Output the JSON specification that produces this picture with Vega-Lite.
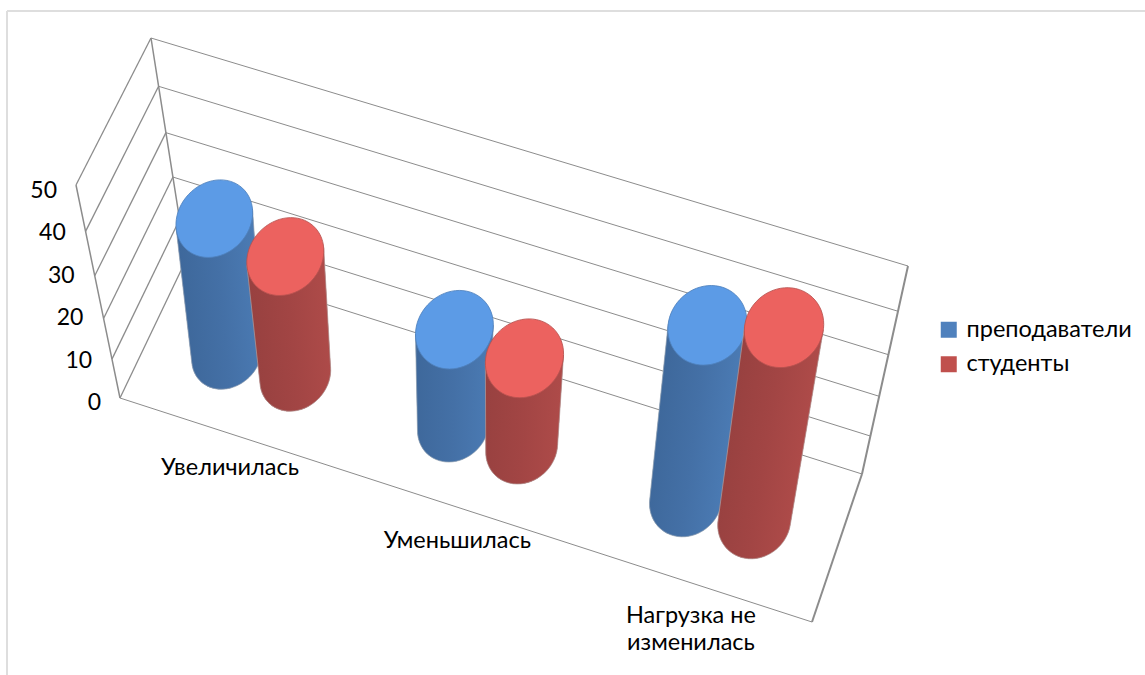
{
  "$schema": "https://vega.github.io/schema/vega-lite/v6.json",
  "width": 1145,
  "height": 675,
  "padding": 0,
  "autosize": "none",
  "background": "white",
  "view": {"stroke": null},
  "config": {"font": "Lato"},
  "datasets": {
    "levels": [{"level": 0}, {"level": 10}, {"level": 20}, {"level": 30}, {"level": 40}, {"level": 50}],
    "cylinders": [
      {"category": "Увеличилась", "series": "преподаватели", "value": 32.5},
      {"category": "Увеличилась", "series": "студенты", "value": 29},
      {"category": "Уменьшилась", "series": "преподаватели", "value": 24},
      {"category": "Уменьшилась", "series": "студенты", "value": 22.5},
      {"category": "Нагрузка не изменилась", "series": "преподаватели", "value": 42.5},
      {"category": "Нагрузка не изменилась", "series": "студенты", "value": 47}
    ]
  },
  "encoding": {
    "x": {"field": "sx", "type": "quantitative", "scale": {"domain": [0, 1145], "nice": false, "zero": false}, "axis": null},
    "y": {"field": "sy", "type": "quantitative", "scale": {"domain": [0, 675], "reverse": true, "nice": false, "zero": false}, "axis": null}
  },
  "layer": [
    {
      "data": {"values": [{"edge": "top"}]},
      "transform": [
        {"calculate": "7", "as": "sx"}, {"calculate": "11", "as": "sy"},
        {"calculate": "1145", "as": "sx2"}, {"calculate": "11", "as": "sy2"}
      ],
      "mark": {"type": "rule", "color": "#dedede", "strokeWidth": 2},
      "encoding": {"x2": {"field": "sx2"}, "y2": {"field": "sy2"}}
    },
    {
      "data": {"values": [{"edge": "left"}]},
      "transform": [
        {"calculate": "7", "as": "sx"}, {"calculate": "11", "as": "sy"},
        {"calculate": "7", "as": "sx2"}, {"calculate": "675", "as": "sy2"}
      ],
      "mark": {"type": "rule", "color": "#dedede", "strokeWidth": 2},
      "encoding": {"x2": {"field": "sx2"}, "y2": {"field": "sy2"}}
    },
    {
      "data": {"name": "levels"},
      "transform": [
        {"calculate": "datum.level/50", "as": "t"},
        {"calculate": "datum.t-0.11*datum.t*(1-datum.t)", "as": "h"}
      ],
      "layer": [
        {
          "transform": [
            {"calculate": "186-35*datum.h", "as": "sx"},
            {"calculate": "260-222*datum.h", "as": "sy"},
            {"calculate": "862+46*datum.h", "as": "sx2"},
            {"calculate": "474-208*datum.h", "as": "sy2"}
          ],
          "mark": {"type": "rule", "color": "#8c8c8c", "strokeWidth": 1},
          "encoding": {"x2": {"field": "sx2"}, "y2": {"field": "sy2"}}
        },
        {
          "transform": [
            {"calculate": "120-44*datum.h", "as": "sx"},
            {"calculate": "398-213*datum.h", "as": "sy"},
            {"calculate": "186-35*datum.h", "as": "sx2"},
            {"calculate": "260-222*datum.h", "as": "sy2"}
          ],
          "mark": {"type": "rule", "color": "#8c8c8c", "strokeWidth": 1.3},
          "encoding": {"x2": {"field": "sx2"}, "y2": {"field": "sy2"}}
        },
        {
          "transform": [
            {"calculate": "120-44*datum.h", "as": "sx"},
            {"calculate": "398-213*datum.h", "as": "sy"}
          ],
          "mark": {"type": "line", "color": "#8c8c8c", "strokeWidth": 1.5},
          "encoding": {"order": {"field": "level"}}
        },
        {
          "transform": [
            {"calculate": "186-35*datum.h", "as": "sx"},
            {"calculate": "260-222*datum.h", "as": "sy"}
          ],
          "mark": {"type": "line", "color": "#8c8c8c", "strokeWidth": 1.5},
          "encoding": {"order": {"field": "level"}}
        },
        {
          "transform": [
            {"calculate": "862+46*datum.h", "as": "sx"},
            {"calculate": "474-208*datum.h", "as": "sy"}
          ],
          "mark": {"type": "line", "color": "#8c8c8c", "strokeWidth": 2},
          "encoding": {"order": {"field": "level"}}
        },
        {
          "transform": [
            {"filter": "datum.level===0"},
            {"calculate": "120", "as": "sx"}, {"calculate": "398", "as": "sy"},
            {"calculate": "812", "as": "sx2"}, {"calculate": "622", "as": "sy2"}
          ],
          "mark": {"type": "rule", "color": "#8c8c8c", "strokeWidth": 1},
          "encoding": {"x2": {"field": "sx2"}, "y2": {"field": "sy2"}}
        },
        {
          "transform": [
            {"filter": "datum.level===0"},
            {"calculate": "812", "as": "sx"}, {"calculate": "622", "as": "sy"},
            {"calculate": "862", "as": "sx2"}, {"calculate": "474", "as": "sy2"}
          ],
          "mark": {"type": "rule", "color": "#8c8c8c", "strokeWidth": 2},
          "encoding": {"x2": {"field": "sx2"}, "y2": {"field": "sy2"}}
        },
        {
          "transform": [
            {"calculate": "120-44*datum.t", "as": "sx"},
            {"calculate": "398-212.4*datum.t", "as": "sy"}
          ],
          "mark": {"type": "text", "align": "right", "baseline": "middle", "dx": -19, "dy": 5, "fontSize": 23, "color": "#000000"},
          "encoding": {"text": {"field": "level", "type": "quantitative"}}
        }
      ]
    },
    {
      "data": {"name": "cylinders"},
      "transform": [
        {"calculate": "[0.158,0.489,0.829][indexof(['Увеличилась','Уменьшилась','Нагрузка не изменилась'],datum.category)]", "as": "catU"},
        {"calculate": "datum.series==='преподаватели'", "as": "front"},
        {"calculate": "datum.catU+(datum.front?-0.05:0.05)", "as": "u"},
        {"calculate": "datum.value/50", "as": "t"},
        {"calculate": "datum.t-0.11*datum.t*(1-datum.t)", "as": "h"},
        {"calculate": "153+684*datum.u", "as": "bx"},
        {"calculate": "330+218.5*datum.u", "as": "by"},
        {"calculate": "(-27.5+68.4*datum.u+(datum.front?0:-6*(1-datum.u)))*datum.h", "as": "dx"},
        {"calculate": "(-217+10*datum.u)*datum.h", "as": "dy"},
        {"calculate": "atan2(datum.dx,-datum.dy)*180/PI", "as": "tilt"},
        {"calculate": "sqrt(datum.dx*datum.dx+datum.dy*datum.dy)", "as": "len"},
        {"calculate": "41.5", "as": "a1"},
        {"calculate": "35+3.5*datum.u", "as": "b1"},
        {"calculate": "0.92*datum.a1", "as": "a0"},
        {"calculate": "0.92*datum.b1", "as": "b0"},
        {"calculate": "-47-datum.tilt", "as": "rho"},
        {"calculate": "datum.rho*PI/180", "as": "r"},
        {"calculate": "sqrt(pow(datum.a0*cos(datum.r),2)+pow(datum.b0*sin(datum.r),2))", "as": "hw0"},
        {"calculate": "sqrt(pow(datum.a1*cos(datum.r),2)+pow(datum.b1*sin(datum.r),2))", "as": "hw1"},
        {"calculate": "(datum.a0*datum.a0-datum.b0*datum.b0)*sin(datum.r)*cos(datum.r)/datum.hw0", "as": "yt0"},
        {"calculate": "(datum.a1*datum.a1-datum.b1*datum.b1)*sin(datum.r)*cos(datum.r)/datum.hw1", "as": "yt1"},
        {"calculate": "'M'+(-datum.hw0)+','+(-datum.yt0)+'A'+datum.a0+','+datum.b0+','+datum.rho+',0,0,'+datum.hw0+','+datum.yt0+'L'+datum.hw1+','+(datum.yt1-datum.len)+'L'+(-datum.hw1)+','+(-datum.yt1-datum.len)+'Z'", "as": "bodyPath"},
        {"calculate": "'M'+(-datum.a1)+',0A'+datum.a1+','+datum.b1+',0,1,0,'+datum.a1+',0A'+datum.a1+','+datum.b1+',0,1,0,'+(-datum.a1)+',0Z'", "as": "capPath"}
      ],
      "layer": [
        {
          "transform": [
            {"calculate": "datum.bx", "as": "sx"},
            {"calculate": "datum.by", "as": "sy"}
          ],
          "layer": [
            {
              "mark": {"type": "point", "filled": true, "opacity": 1},
              "encoding": {
                "color": {
                  "field": "series",
                  "type": "nominal",
                  "sort": null,
                  "scale": {"domain": ["преподаватели", "студенты"], "range": ["#4F81BD", "#C0504D"]},
                  "legend": {
                    "orient": "none",
                    "legendX": 937,
                    "legendY": 318,
                    "title": null,
                    "padding": 0,
                    "symbolType": "square",
                    "symbolSize": 256,
                    "symbolOpacity": 1,
                    "symbolStrokeWidth": 0,
                    "labelFont": "Lato",
                    "labelFontSize": 23.5,
                    "labelLimit": 400,
                    "labelColor": "#000000",
                    "labelOffset": 6,
                    "rowPadding": 9.5
                  }
                },
                "shape": {"field": "bodyPath", "type": "nominal", "scale": null, "legend": null},
                "angle": {"field": "tilt", "type": "quantitative", "scale": null, "legend": null},
                "size": {"value": 4}
              }
            },
            {
              "transform": [{"filter": "datum.series==='преподаватели'"}],
              "mark": {
                "type": "point", "filled": true, "opacity": 1,
                "stroke": "#9aa6b4", "strokeWidth": 0.7,
                "fill": {"gradient": "linear", "x1": 0, "x2": 1, "y1": 0, "y2": 0, "stops": [
                  {"offset": 0, "color": "#3E689B"},
                  {"offset": 0.5, "color": "#4470A6"},
                  {"offset": 1, "color": "#4B7BB4"}
                ]}
              },
              "encoding": {
                "shape": {"field": "bodyPath", "type": "nominal", "scale": null, "legend": null},
                "angle": {"field": "tilt", "type": "quantitative", "scale": null, "legend": null},
                "size": {"value": 4}
              }
            }
          ]
        },
        {
          "transform": [
            {"filter": "datum.series==='преподаватели'"},
            {"calculate": "datum.bx+datum.dx", "as": "sx"},
            {"calculate": "datum.by+datum.dy", "as": "sy"}
          ],
          "mark": {"type": "point", "filled": true, "opacity": 1, "fill": "#5C9BE6", "stroke": "#4f82bd", "strokeWidth": 0.8},
          "encoding": {
            "shape": {"field": "capPath", "type": "nominal", "scale": null, "legend": null},
            "angle": {"datum": -47, "scale": null},
            "size": {"value": 4}
          }
        },
        {
          "transform": [
            {"filter": "datum.series==='студенты'"},
            {"calculate": "datum.bx", "as": "sx"},
            {"calculate": "datum.by", "as": "sy"}
          ],
          "mark": {
            "type": "point", "filled": true, "opacity": 1,
            "stroke": "#b39a99", "strokeWidth": 0.7,
            "fill": {"gradient": "linear", "x1": 0, "x2": 1, "y1": 0, "y2": 0, "stops": [
              {"offset": 0, "color": "#984140"},
              {"offset": 0.5, "color": "#A24544"},
              {"offset": 1, "color": "#AE4B49"}
            ]}
          },
          "encoding": {
            "shape": {"field": "bodyPath", "type": "nominal", "scale": null, "legend": null},
            "angle": {"field": "tilt", "type": "quantitative", "scale": null, "legend": null},
            "size": {"value": 4}
          }
        },
        {
          "transform": [
            {"filter": "datum.series==='студенты'"},
            {"calculate": "datum.bx+datum.dx", "as": "sx"},
            {"calculate": "datum.by+datum.dy", "as": "sy"}
          ],
          "mark": {"type": "point", "filled": true, "opacity": 1, "fill": "#EC625F", "stroke": "#b85250", "strokeWidth": 0.8},
          "encoding": {
            "shape": {"field": "capPath", "type": "nominal", "scale": null, "legend": null},
            "angle": {"datum": -47, "scale": null},
            "size": {"value": 4}
          }
        },
        {
          "transform": [
            {"filter": "datum.series==='преподаватели'"},
            {"calculate": "121.4+687*datum.catU", "as": "sx"},
            {"calculate": "421.7+219.5*datum.catU", "as": "sy"},
            {"calculate": "replace(datum.category,' не ',' не\\n')", "as": "label"}
          ],
          "mark": {"type": "text", "align": "center", "baseline": "top", "fontSize": 23.5, "lineBreak": "\n", "lineHeight": 27, "color": "#000000"},
          "encoding": {"text": {"field": "label", "type": "nominal"}}
        }
      ]
    }
  ]
}
